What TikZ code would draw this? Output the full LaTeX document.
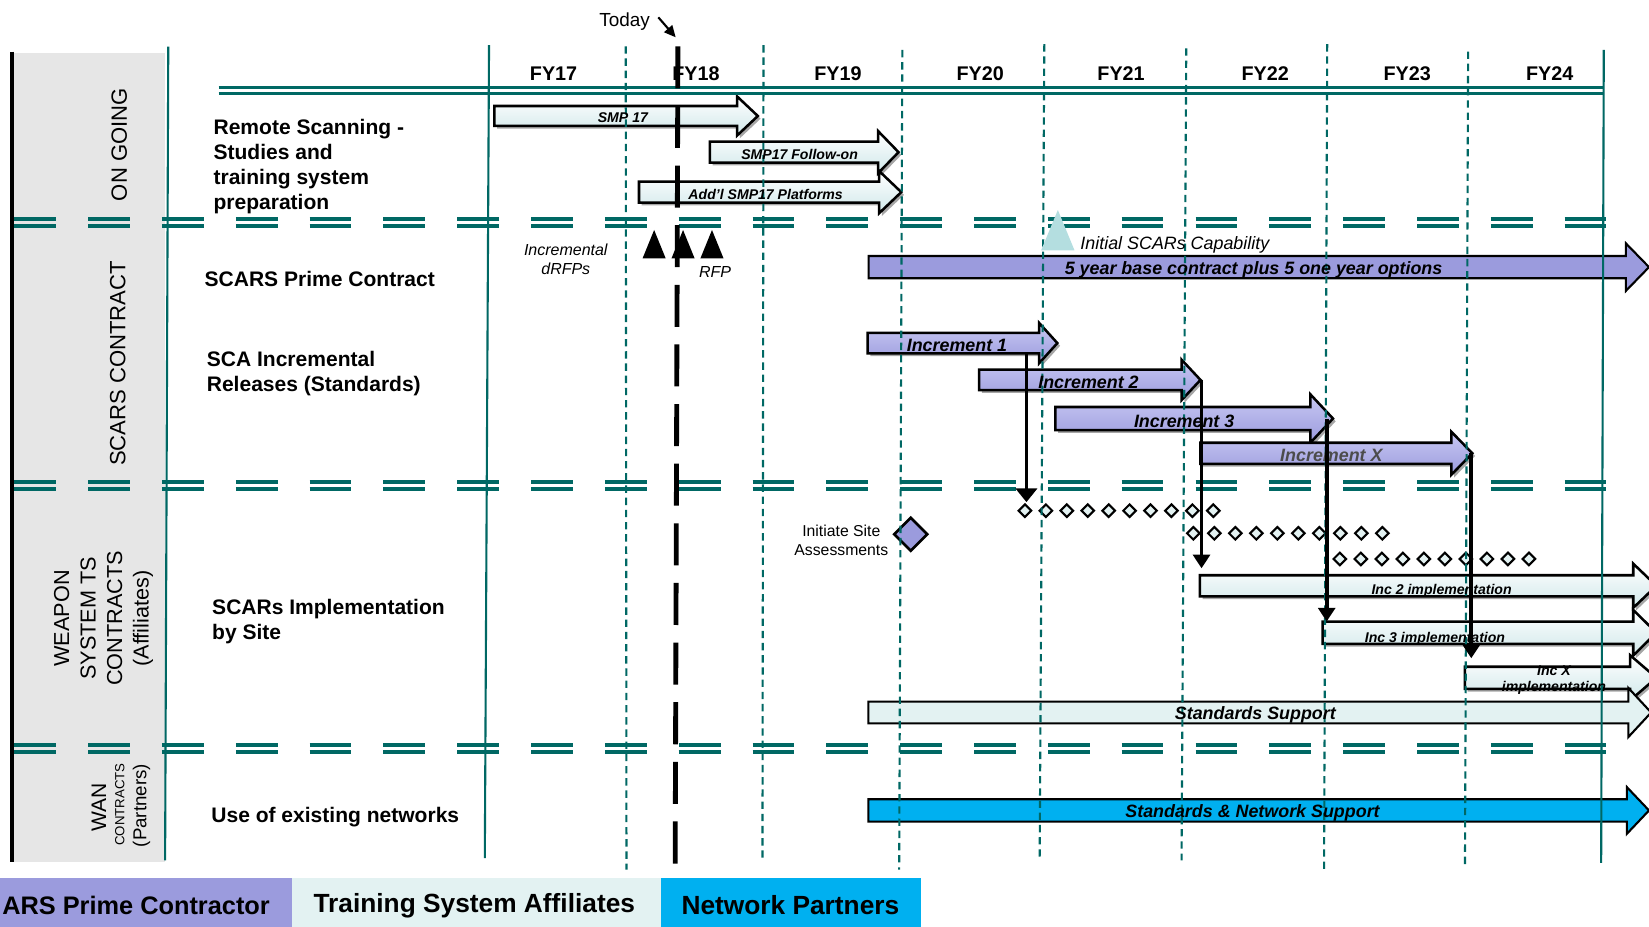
\documentclass[tikz,border=0pt]{standalone}
\usepackage{fontspec}
\setmainfont{Liberation Sans}
\usetikzlibrary{arrows.meta,shapes.geometric,shadows}

\definecolor{tealline}{RGB}{0,104,100}
\definecolor{scpurple}{RGB}{155,155,221}
\definecolor{scpurpleL}{RGB}{200,200,243}
\definecolor{lcyan}{RGB}{227,242,242}
\definecolor{lcyanD}{RGB}{208,232,234}
\definecolor{npblue}{RGB}{0,176,240}
\definecolor{panelgrey}{RGB}{230,230,230}
\definecolor{capteal}{RGB}{180,222,224}

\newcommand{\barshape}[7]{%
  \path[#1] (#2,#5) -- (#3,#5) -- (#3,#5-#7) -- (#4,{(#5+#6)/2}) -- (#3,#6+#7) -- (#3,#6) -- (#2,#6) -- cycle;}

\tikzset{
  gridline/.style={draw=tealline, line width=1pt, dash pattern=on 3.5pt off 2.3pt},
  gridsolid/.style={draw=tealline, line width=1pt},
  headline/.style={draw=tealline, line width=1.5pt},
  sepline/.style={draw=tealline, line width=1.75pt, dash pattern=on 19.85pt off 15.25pt},
  txt/.style={inner sep=0pt, yshift=-1pt},
  fylab/.style={txt, font=\fontsize{9.4}{11}\selectfont\bfseries},
  rowlab/.style={txt, font=\fontsize{10}{11.8}\selectfont\bfseries, align=left, anchor=west},
  sidelab/.style={font=\fontsize{10.5}{12.6}\selectfont, rotate=90, align=center, inner sep=0pt, xshift=1pt},
  bshadow/.style={drop shadow={shadow xshift=1.3pt, shadow yshift=-1.3pt, opacity=0.35, fill=black}},
  lightbar/.style={draw=black, line width=1.2pt, top color=white, bottom color=lcyanD, bshadow},
  purplebar/.style={draw=black, line width=1.2pt, top color=scpurpleL, bottom color=scpurple, bshadow},
  flatbar/.style={draw=black, line width=1pt},
  smalltxt/.style={txt, font=\fontsize{6.7}{7.8}\selectfont\bfseries\itshape, align=center},
  bartxt/.style={txt, font=\fontsize{8.5}{10}\selectfont\bfseries\itshape},
  notetxt/.style={txt, font=\fontsize{7.6}{9.25}\selectfont\itshape, align=center},
  smdia/.style={diamond, draw=black, fill=lcyan, line width=1pt, minimum width=6.4pt, minimum height=6.4pt, inner sep=0pt},
  varrow/.style={draw=black, line width=1.8pt, -{Triangle[width=8pt,length=6.5pt]}},
  lgtxt/.style={txt, yshift=-0.5pt, font=\fontsize{12.5}{14}\selectfont\bfseries},
}

\begin{document}
\begin{tikzpicture}[x=0.5pt,y=-0.5pt]
\useasboundingbox (0,0) rectangle (1568,881);
\begin{scope}
\clip (0,0) rectangle (1568,881);
\fill[white] (0,0) rectangle (1568,881);

% side panel
\fill[panelgrey] (11,50) rectangle (157,820);
\draw[line width=1.9pt] (11,49) -- (11,820);

% bars: ongoing
\barshape{lightbar}{470}{701}{720.6}{100.8}{119.8}{9}
\barshape{lightbar}{675}{835}{854.4}{134.7}{154.7}{10}
\barshape{lightbar}{607.6}{836}{857}{172.7}{192.7}{10}

% SCARS contract
\barshape{flatbar, fill=scpurple}{826}{1546}{1568}{243.4}{264.6}{12}
\barshape{purplebar}{825}{988}{1005.4}{316.5}{336}{9.5}
\barshape{purplebar}{931}{1123.5}{1141.5}{351.5}{371}{9.5}
\barshape{purplebar}{1003.5}{1246}{1267.5}{387}{409}{12}
\barshape{purplebar}{1141.5}{1380}{1400}{421}{441}{10.5}

% implementation
\barshape{lightbar}{1141}{1553}{1575}{547}{567}{11}
\barshape{lightbar}{1257.7}{1553}{1575}{591}{612.3}{11}
\barshape{lightbar}{1393}{1550}{1575}{634}{655}{11}
\barshape{flatbar, fill=lcyan}{825.7}{1548.4}{1570}{667.2}{687.8}{13}
\barshape{flatbar, fill=npblue}{825.7}{1547}{1568}{760}{781.3}{11.5}

% diamonds
\foreach \i in {0,...,9} {
  \node[smdia] (da\i) at ({974.6+19.9*\i},485.6) {};
  \node[smdia] (db\i) at ({1134.7+19.97*\i},507.1) {};
  \node[smdia] (dc\i) at ({1274+19.98*\i},531.5) {};
}
\node[diamond, draw=black, fill=scpurple, line width=1.2pt, minimum width=16.2pt, minimum height=16.2pt, inner sep=0pt] (site) at (866,508) {};
\node[txt, font=\fontsize{7.5}{8.85}\selectfont, align=center] (sitelab) at (800,512) {Initiate Site\\Assessments};

% milestones
\fill (611,245.7) -- (622,218.7) -- (633,245.7) -- cycle;
\fill (638.5,245.7) -- (649.5,218.7) -- (660.5,245.7) -- cycle;
\fill (666,245.7) -- (677,218.7) -- (688,245.7) -- cycle;
\node[notetxt] (drfp) at (538,244.5) {Incremental\\dRFPs};
\node[notetxt] (rfp) at (680,256.7) {RFP};

% grid
\draw[gridsolid] (160,44.4) -- (157,818);
\draw[gridsolid] (465,43) -- (461,816);
\draw[gridsolid] (1525,47.5) -- (1522.5,820.6);
\foreach \xa/\ya/\xb/\yb in {595/44/595.7/827, 726/43/725/820, 858/47.5/855/827, 993/42/988.6/816, 1128/46/1123.5/818, 1262/42/1259/829, 1396/49/1393/822.5}
  \draw[gridline] (\xa,\ya) -- (\xb,\yb);
\draw[headline] (208,83) -- (1525,83);
\draw[headline] (208,88.8) -- (1525,88.8);
\foreach \yy in {208.1,214.6,458.3,464.8,708.6,715.1}
  \draw[sepline] (13.6,\yy) -- (1528,\yy);

% initial capability
\fill[capteal] (990,238) -- (1005.9,199.7) -- (1021.7,238) -- cycle;
\node[txt, font=\fontsize{8.5}{10}\selectfont\itshape, anchor=west] (initcap) at (1027,231) {Initial SCARs Capability};

% FY labels
\foreach \x/\t in {526.4/FY17, 661.8/FY18, 796.8/FY19, 932/FY20, 1066/FY21, 1203/FY22, 1338/FY23, 1473.5/FY24}
  \node[fylab] (l\t) at (\x,68) {\t};

% bar texts
\node[smalltxt] (tsmp) at (592.3,110.3) {SMP 17};
\node[smalltxt] (tfol) at (760.3,144.8) {SMP17 Follow-on};
\node[smalltxt] (tadd) at (728,182.9) {Add’l SMP17 Platforms};
\node[bartxt] (t5y) at (1192,254.5) {5 year base contract plus 5 one year options};
\node[bartxt] (ti1) at (910,326.5) {Increment 1};
\node[bartxt] (ti2) at (1035,362) {Increment 2};
\node[bartxt] (ti3) at (1126,399) {Increment 3};
\node[bartxt, text=black!70] (tix) at (1266,431) {Increment X};
\node[smalltxt] (tim2) at (1370.8,559.5) {Inc 2 implementation};
\node[smalltxt] (tim3) at (1364.5,605) {Inc 3 implementation};
\node[smalltxt] (timx) at (1477.6,644.5) {Inc X\\implementation};
\node[bartxt] (tss) at (1193.7,678) {Standards Support};
\node[bartxt] (tsn) at (1191,770.8) {Standards \& Network Support};

% row labels
\node[rowlab] (lremote) at (202.7,156.6) {Remote Scanning -\\Studies and\\training system\\preparation};
\node[rowlab] (lprime) at (194.2,263) {SCARS Prime Contract};
\node[rowlab] (lsca) at (196.3,353.6) {SCA Incremental\\Releases (Standards)};
\node[rowlab] (limpl) at (201.4,588.7) {SCARs Implementation\\by Site};
\node[rowlab] (lnet) at (200.6,775) {Use of existing networks};

% side labels
\node[sidelab] (sgo) at (113.5,139.5) {ON GOING};
\node[sidelab] (ssc) at (112,347.5) {SCARS CONTRACT};
\node[sidelab, font=\fontsize{10.3}{12.6}\selectfont] (swp) at (98.5,590) {WEAPON\\SYSTEM TS\\CONTRACTS\\(Affiliates)};
\node[sidelab, font=\fontsize{10}{12}\selectfont] (swan1) at (94,770) {WAN};
\node[sidelab, font=\fontsize{6.3}{7}\selectfont] (swan2) at (114,767) {CONTRACTS};
\node[sidelab, font=\fontsize{8.9}{10}\selectfont] (swan3) at (134.5,768) {(Partners)};

% increment to implementation arrows
\coordinate (v1s) at (976,336);    \coordinate (v1e) at (976,477.5);
\coordinate (v2s) at (1142.5,361); \coordinate (v2e) at (1142.5,540.4);
\coordinate (v3s) at (1261.5,398); \coordinate (v3e) at (1261.5,591);
\coordinate (v4s) at (1399,431);   \coordinate (v4e) at (1399,626);
\draw[varrow, -{Triangle[width=10pt,length=6.5pt]}] (v1s) -- (v1e);
\draw[varrow] (v2s) -- (v2e);
\draw[varrow] (v3s) -- (v3e);
\draw[varrow] (v4s) -- (v4e);

% today
\node[txt, font=\fontsize{9}{10}\selectfont] (today) at (594,19) {Today};
\coordinate (tarS) at (626,16.5);
\coordinate (tarE) at (642.5,35.5);
\draw[line width=1pt, -{Triangle[width=5pt,length=5.5pt]}] (tarS) -- (tarE);
\coordinate (tdTop) at (644.6,44);
\coordinate (tdBot) at (642,822);
\draw[line width=2.3pt, dash pattern=on 20pt off 8.35pt] (tdTop) -- (tdBot);

% legend
\fill[scpurple] (0,835) rectangle (278,881);
\fill[lcyan] (278,835) rectangle (628.8,881);
\fill[npblue] (628.8,835) rectangle (876.2,881);
\node[lgtxt, font=\fontsize{12.05}{14}\selectfont\bfseries, anchor=east] (lgA) at (257,858) {ARS Prime Contractor};
\node[lgtxt] (lgB) at (451,858) {Training System Affiliates};
\node[lgtxt] (lgC) at (751.6,858) {Network Partners};
\end{scope}
\end{tikzpicture}
\end{document}
